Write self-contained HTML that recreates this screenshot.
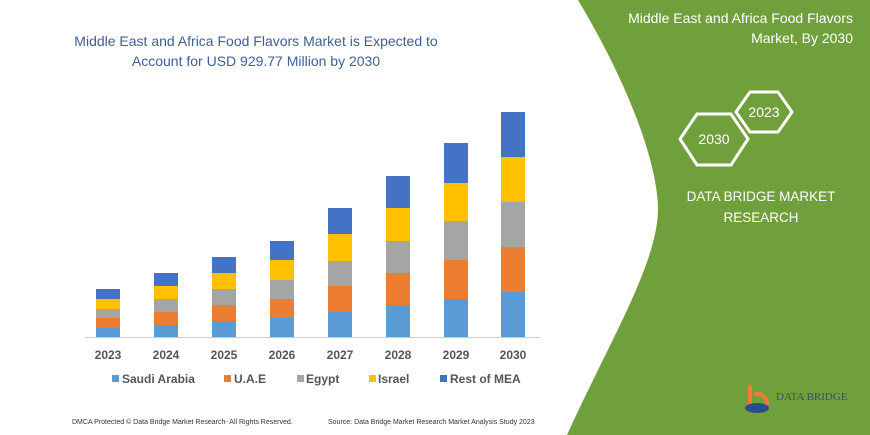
<!DOCTYPE html>
<html><head><meta charset="utf-8"><style>
body{margin:0;width:870px;height:435px;overflow:hidden;background:#fff;font-family:"Liberation Sans",sans-serif}
</style></head><body>
<svg width="870" height="435" xmlns="http://www.w3.org/2000/svg" style="position:absolute;left:0;top:0">
<path d="M578,0 L870,0 L870,435 L567,435 C610,340 660,260 658,205 C655,150 620,70 578,0 Z" fill="#70a03b"/>
<g font-family="Liberation Sans,sans-serif" fill="#fff" text-anchor="end" font-size="14">
<text x="853" y="23">Middle East and Africa Food Flavors</text>
<text x="853" y="43">Market, By 2030</text>
</g>
<polygon points="680,139 697,114 731,114 748,139 731,165 697,165" fill="none" stroke="#fff" stroke-width="3"/>
<polygon points="736,112 750,92 778,92 792,112 778,132 750,132" fill="none" stroke="#fff" stroke-width="3"/>
<text x="714" y="144" fill="#fff" font-size="14" text-anchor="middle">2030</text>
<text x="764" y="117" fill="#fff" font-size="14" text-anchor="middle">2023</text>
<text x="761" y="201" fill="#fff" font-size="13.5" text-anchor="middle">DATA BRIDGE MARKET</text>
<text x="761" y="222" fill="#fff" font-size="13.5" text-anchor="middle">RESEARCH</text>
<path d="M750,385 L750,408 L765,408 Q770,398 760,394 L754,394" fill="none" stroke="#ed7d31" stroke-width="4"/>
<ellipse cx="757" cy="408" rx="12" ry="5" fill="#2b4d8c"/>
<text x="776" y="400" fill="#3d4d6a" font-size="11" font-family="Liberation Serif,serif">DATA BRIDGE</text>
<g fill="#3e5f93" font-size="14" text-anchor="middle">
<text x="256" y="46">Middle East and Africa Food Flavors Market is Expected to</text>
<text x="256" y="66">Account for USD 929.77 Million by 2030</text>
</g>
<line x1="85" y1="337.5" x2="540" y2="337.5" stroke="#ccc"/>
<g id="bars"></g>
<g font-size="12" font-weight="bold" fill="#555" text-anchor="middle">
<text x="108" y="359">2023</text><text x="166" y="359">2024</text><text x="224" y="359">2025</text><text x="282" y="359">2026</text><text x="340" y="359">2027</text><text x="398" y="359">2028</text><text x="456" y="359">2029</text><text x="513" y="359">2030</text>
</g>
<g font-size="12" font-weight="bold" fill="#555">
<rect x="112" y="375" width="7" height="7" fill="#5b9bd5"/><text x="122" y="383">Saudi Arabia</text>
<rect x="224" y="375" width="7" height="7" fill="#ed7d31"/><text x="234" y="383">U.A.E</text>
<rect x="297" y="375" width="7" height="7" fill="#a5a5a5"/><text x="306" y="383">Egypt</text>
<rect x="369" y="375" width="7" height="7" fill="#ffc000"/><text x="378" y="383">Israel</text>
<rect x="440" y="375" width="7" height="7" fill="#4472c4"/><text x="450" y="383">Rest of MEA</text>
</g>
<text x="72" y="424" font-size="7" fill="#333">DMCA Protected © Data Bridge Market Research-  All Rights Reserved.</text>
<text x="328" y="424" font-size="7" fill="#333">Source:  Data Bridge Market Research  Market Analysis Study 2023</text>
</svg>
<script>
var d=[[108,289,299,309,318,328],[166,273,286,299,312,325],[224,257,273,289,305,321],[282,241,260,280,299,318],[340,208,234,261,286,312],[398,176,208,241,273,305],[456,143,183,221,260,299],[513,112,157,202,247,292]];
var c=["#4472c4","#ffc000","#a5a5a5","#ed7d31","#5b9bd5"],s="";
d.forEach(function(b){var y=b.slice(1).concat([337]);for(var i=0;i<5;i++)s+='<rect x="'+(b[0]-12)+'" y="'+y[i]+'" width="24" height="'+(y[i+1]-y[i])+'" fill="'+c[i]+'"/>';});
document.getElementById("bars").innerHTML=s;
</script>
</body></html>
